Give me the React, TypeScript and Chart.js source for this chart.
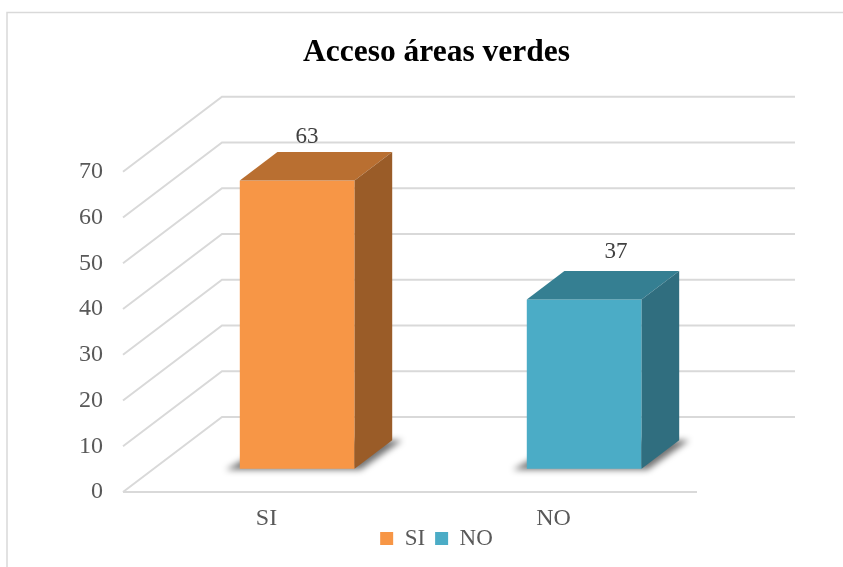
import React, { useEffect, useRef } from "react";
import { Chart, registerables } from "chart.js";

Chart.register(...registerables);

const titleText = "Acceso áreas verdes";
const categories = ["SI", "NO"];
const values = [63, 37];
const frontColors = ["#F79646", "#4BACC6"];
const topColors = ["#B96F31", "#357F92"];
const sideColors = ["#9A5C28", "#306E7F"];
const yMin = 0;
const yMax = 70;
const yStep = 10;

// 3D projection style constants
const DEPTH_DX = 99;
const DEPTH_DY = -75;
const BAR_FRONT = 0.31;
const BAR_BACK = 0.69;
const GRID_COLOR = "#d9d9d9";
const FONT = "'Liberation Serif', 'Times New Roman', serif";
const labelNudge = [
  [-9, 2],
  [13, -2],
];

const bar3d = {
  id: "bar3d",
  afterLayout(chart: any) {
    // let x tick labels extend below the axis box without being clipped
    if (chart.scales.x) chart.scales.x.bottom += 20;
  },
  beforeDraw(chart: any) {
    const ctx = chart.ctx;
    ctx.save();
    ctx.strokeStyle = GRID_COLOR;
    ctx.lineWidth = 1.5;
    ctx.strokeRect(7, 12.5, 1000, 1000);
    ctx.restore();
  },
  beforeDatasetsDraw(chart: any) {
    const ctx = chart.ctx;
    const { left, right, bottom } = chart.chartArea;
    const ys = chart.scales.y;
    ctx.save();
    ctx.strokeStyle = GRID_COLOR;
    ctx.lineWidth = 2;
    ctx.lineCap = "butt";
    for (let v = yMin; v <= yMax; v += yStep) {
      const yf = ys.getPixelForValue(v);
      ctx.beginPath();
      ctx.moveTo(left, yf);
      ctx.lineTo(left + DEPTH_DX, yf + DEPTH_DY);
      ctx.lineTo(right + DEPTH_DX - 1, yf + DEPTH_DY);
      ctx.stroke();
    }
    ctx.beginPath();
    ctx.moveTo(left, bottom);
    ctx.lineTo(right, bottom);
    ctx.stroke();
    ctx.restore();
  },
  afterDatasetsDraw(chart: any) {
    const ctx = chart.ctx;
    const meta = chart.getDatasetMeta(0);
    const ox = DEPTH_DX * BAR_FRONT;
    const oy = DEPTH_DY * BAR_FRONT;
    const dd = DEPTH_DX * (BAR_BACK - BAR_FRONT);
    const dy = DEPTH_DY * (BAR_BACK - BAR_FRONT);
    meta.data.forEach((el: any, i: number) => {
      const w = el.width;
      const x0 = el.x - w / 2 + ox;
      const x1 = el.x + w / 2 + ox;
      const yt = el.y + oy;
      const yb = el.base + oy;
      // floor shadow
      ctx.save();
      ctx.filter = "blur(3px)";
      ctx.fillStyle = "rgba(0,0,0,0.55)";
      ctx.beginPath();
      ctx.moveTo(x0 - 14, yb + 1);
      ctx.lineTo(x1 + 6, yb + 1);
      ctx.lineTo(x1 + dd + 10, yb + dy);
      ctx.lineTo(x0 + dd, yb + dy);
      ctx.closePath();
      ctx.fill();
      ctx.restore();

      ctx.save();
      // front
      ctx.fillStyle = frontColors[i];
      ctx.fillRect(x0, yt, x1 - x0, yb - yt);
      // top
      ctx.fillStyle = topColors[i];
      ctx.beginPath();
      ctx.moveTo(x0, yt);
      ctx.lineTo(x1, yt);
      ctx.lineTo(x1 + dd, yt + dy);
      ctx.lineTo(x0 + dd, yt + dy);
      ctx.closePath();
      ctx.fill();
      // side
      ctx.fillStyle = sideColors[i];
      ctx.beginPath();
      ctx.moveTo(x1, yt);
      ctx.lineTo(x1 + dd, yt + dy);
      ctx.lineTo(x1 + dd, yb + dy);
      ctx.lineTo(x1, yb);
      ctx.closePath();
      ctx.fill();
      // value label
      const n = labelNudge[i] || [0, 0];
      ctx.fillStyle = "#404040";
      ctx.font = `23px ${FONT}`;
      ctx.textAlign = "center";
      ctx.textBaseline = "middle";
      ctx.fillText(String(values[i]), (x0 + x1) / 2 + dd / 2 + n[0], yt + dy - 17 + n[1]);
      ctx.restore();
    });
  },
};

export default function App() {
  const ref = useRef<HTMLCanvasElement | null>(null);
  useEffect(() => {
    if (!ref.current) return;
    const chart = new Chart(ref.current, {
      type: "bar",
      data: {
        labels: categories,
        datasets: [
          {
            label: titleText,
            data: values,
            backgroundColor: "rgba(0,0,0,0)",
            borderWidth: 0,
            barPercentage: 0.4,
            categoryPercentage: 1,
          },
        ],
      },
      plugins: [bar3d],
      options: {
        responsive: false,
        animation: false,
        devicePixelRatio: 1,
        layout: { padding: { left: 30, right: 0, top: 0, bottom: 7 } },
        plugins: {
          tooltip: { enabled: false },
          title: {
            display: true,
            text: titleText,
            color: "#000000",
            font: { family: FONT, size: 31.5, weight: "bold" },
            padding: { top: 34, bottom: 100 },
          },
          legend: {
            display: true,
            position: "bottom",
            labels: {
              boxWidth: 13,
              boxHeight: 13,
              padding: 10,
              color: "#595959",
              font: { family: FONT, size: 23 },
              generateLabels: () =>
                categories.map((c, i) => ({
                  text: c,
                  fillStyle: frontColors[i],
                  strokeStyle: frontColors[i],
                  lineWidth: 0,
                  hidden: false,
                  index: i,
                  datasetIndex: 0,
                  fontColor: "#595959",
                })),
            },
          },
        },
        scales: {
          x: {
            grid: { display: false, drawTicks: false },
            border: { display: false },
            ticks: {
              color: "#595959",
              font: { family: FONT, size: 24 },
              padding: 12.5,
              maxRotation: 0,
            },
            afterFit: (s: any) => {
              s.height = 25;
            },
          },
          y: {
            min: yMin,
            max: yMax,
            grid: { display: false, drawTicks: false },
            border: { display: false },
            ticks: {
              stepSize: yStep,
              color: "#595959",
              font: { family: FONT, size: 24 },
              padding: 20,
            },
            afterFit: (s: any) => {
              s.width = 93;
            },
          },
          y2: {
            position: "right",
            display: true,
            grid: { display: false, drawTicks: false },
            border: { display: false },
            ticks: { display: false },
            afterFit: (s: any) => {
              s.width = 146;
            },
          },
        },
      } as any,
    });
    return () => chart.destroy();
  }, []);
  return (
    <div style={{ position: "absolute", left: 0, top: 0, width: 843, height: 567 }}>
      <canvas ref={ref} width={843} height={567} style={{ display: "block" }} />
    </div>
  );
}
